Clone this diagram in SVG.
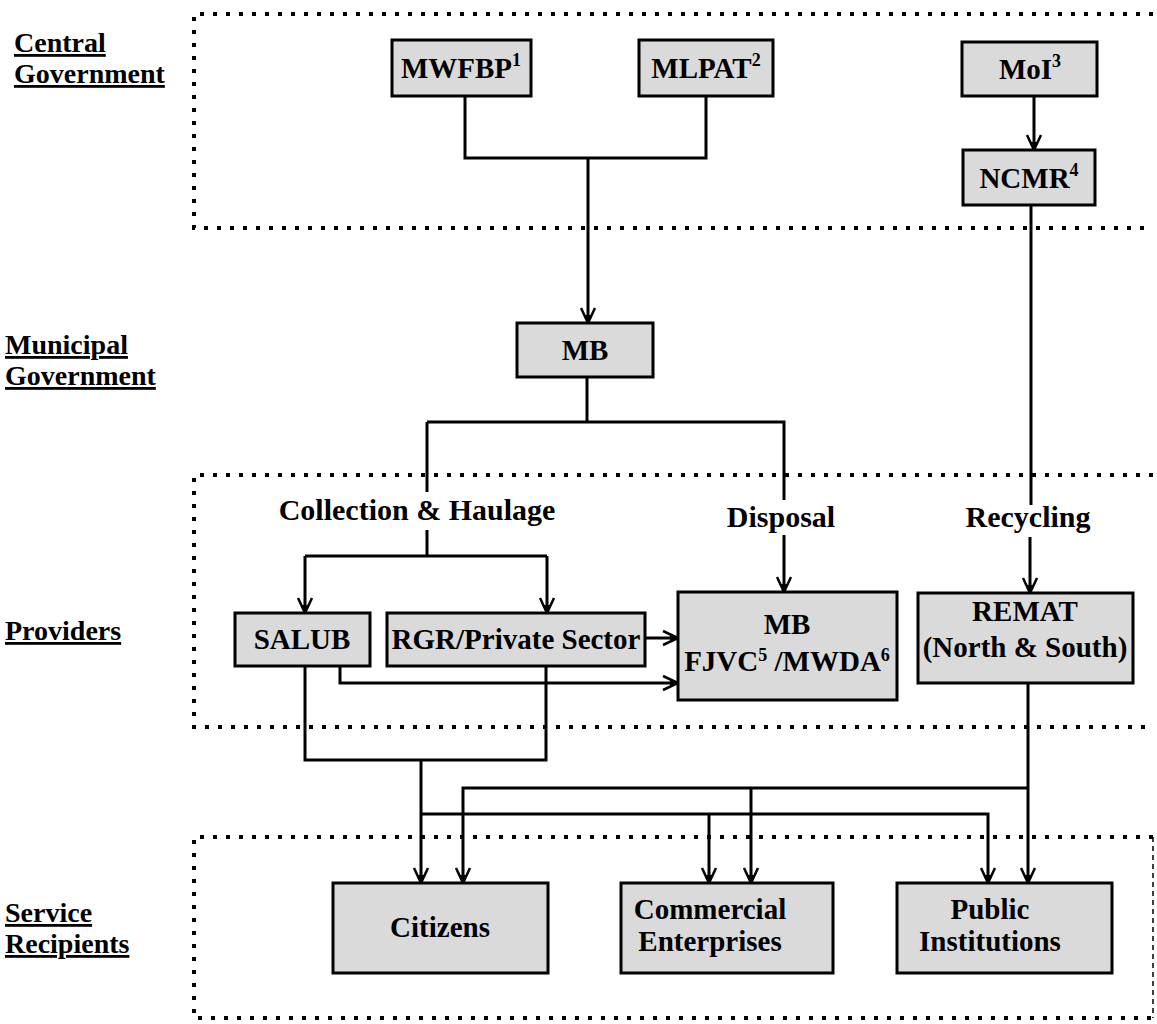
<svg xmlns="http://www.w3.org/2000/svg" width="1157" height="1024" viewBox="0 0 1157 1024">
<defs>
<style>
.bg{fill:#ffffff}
.zone{fill:none;stroke:#000;stroke-width:4;stroke-dasharray:4 9}
.zone-thin{fill:none;stroke:#000;stroke-width:1.5;stroke-dasharray:5 4}
.box{fill:#dadada;stroke:#000;stroke-width:3}
.lbl{font-family:"Liberation Serif","Times New Roman",serif;font-weight:bold;fill:#000}
.side{font-size:28px;text-decoration:underline}
.node{font-size:29px;text-anchor:middle}
.cat{font-size:30px;text-anchor:middle}
.sup{font-size:18px}
.conn{fill:none;stroke:#000;stroke-width:3}
</style>
<marker id="arr" markerUnits="userSpaceOnUse" markerWidth="30" markerHeight="30" refX="0" refY="0" orient="auto" overflow="visible">
<path d="M-15,-7 L0,0 L-15,7" fill="none" stroke="#000" stroke-width="2.5"/>
<path d="M-8,-3.5 L0,0 L-8,3.5 z" fill="#000"/>
</marker>
</defs>
<rect class="bg" x="0" y="0" width="1157" height="1024"/>

<g id="zones">
<path class="zone" d="M1153,14 H194 V228 H1153"/>
<path class="zone" d="M1153,475 H194 V727 H1153"/>
<path class="zone" d="M1153,837 H194 V1018 H1153"/>
<path class="zone-thin" d="M1153,837 V1018"/>
</g>

<g id="side-labels">
<text class="lbl side" x="14" y="52">Central</text>
<text class="lbl side" x="14" y="83">Government</text>
<text class="lbl side" x="5" y="354">Municipal</text>
<text class="lbl side" x="5" y="385">Government</text>
<text class="lbl side" x="5" y="640">Providers</text>
<text class="lbl side" x="5" y="922">Service</text>
<text class="lbl side" x="5" y="953">Recipients</text>
</g>

<g id="categories">
<text class="lbl cat" x="417" y="520">Collection &amp; Haulage</text>
<text class="lbl cat" x="781" y="527">Disposal</text>
<text class="lbl cat" x="1028" y="527">Recycling</text>
</g>

<g id="connectors">
<path class="conn" d="M465,96 V158 H706 V96"/>
<path class="conn" d="M588,158 V323" marker-end="url(#arr)"/>
<path class="conn" d="M1034,96 V150" marker-end="url(#arr)"/>
<path class="conn" d="M1031,205 V505"/>
<path class="conn" d="M1030,537 V593" marker-end="url(#arr)"/>
<path class="conn" d="M587,377 V422"/>
<path class="conn" d="M427,422 H784 V500"/>
<path class="conn" d="M427,422 V492"/>
<path class="conn" d="M427,530 V556"/>
<path class="conn" d="M784,535 V592" marker-end="url(#arr)"/>
<path class="conn" d="M305,556 H547"/>
<path class="conn" d="M305,556 V613" marker-end="url(#arr)"/>
<path class="conn" d="M547,556 V613" marker-end="url(#arr)"/>
<path class="conn" d="M645,638 H678" marker-end="url(#arr)"/>
<path class="conn" d="M340,666 V683 H678" marker-end="url(#arr)"/>
<path class="conn" d="M305,666 V760 H546 V666"/>
<path class="conn" d="M421,760 V883" marker-end="url(#arr)"/>
<path class="conn" d="M421,814 H988 V883" marker-end="url(#arr)"/>
<path class="conn" d="M709,814 V883" marker-end="url(#arr)"/>
<path class="conn" d="M1028,683 V883" marker-end="url(#arr)"/>
<path class="conn" d="M1028,788 H463 V883" marker-end="url(#arr)"/>
<path class="conn" d="M751,788 V883" marker-end="url(#arr)"/>
</g>

<g id="n-mwfbp">
<rect class="box" x="392" y="40" width="139" height="56"/>
<text class="lbl node" x="461" y="78">MWFBP<tspan class="sup" dy="-12">1</tspan></text>
</g>
<g id="n-mlpat">
<rect class="box" x="639" y="40" width="134" height="56"/>
<text class="lbl node" x="706" y="78">MLPAT<tspan class="sup" dy="-12">2</tspan></text>
</g>
<g id="n-moi">
<rect class="box" x="962" y="42" width="135" height="54"/>
<text class="lbl node" x="1030" y="79">MoI<tspan class="sup" dy="-12">3</tspan></text>
</g>
<g id="n-ncmr">
<rect class="box" x="963" y="150" width="132" height="55"/>
<text class="lbl node" x="1029" y="188">NCMR<tspan class="sup" dy="-12">4</tspan></text>
</g>
<g id="n-mb">
<rect class="box" x="517" y="323" width="136" height="54"/>
<text class="lbl node" x="585" y="360">MB</text>
</g>
<g id="n-salub">
<rect class="box" x="235" y="613" width="135" height="53"/>
<text class="lbl node" x="302" y="649">SALUB</text>
</g>
<g id="n-rgr">
<rect class="box" x="387" y="613" width="258" height="53"/>
<text class="lbl node" x="516" y="649">RGR/Private Sector</text>
</g>
<g id="n-mbd">
<rect class="box" x="678" y="592" width="219" height="108"/>
<text class="lbl node" x="787" y="634">MB</text>
<text class="lbl node" x="787" y="671">FJVC<tspan class="sup" dy="-10">5</tspan><tspan dy="10"> /MWDA</tspan><tspan class="sup" dy="-10">6</tspan></text>
</g>
<g id="n-remat">
<rect class="box" x="918" y="593" width="215" height="90"/>
<text class="lbl node" x="1025" y="621">REMAT</text>
<text class="lbl node" x="1025" y="657">(North &amp; South)</text>
</g>
<g id="n-citizens">
<rect class="box" x="333" y="883" width="215" height="90"/>
<text class="lbl node" x="440" y="937">Citizens</text>
</g>
<g id="n-commercial">
<rect class="box" x="621" y="883" width="212" height="90"/>
<text class="lbl node" x="710" y="919">Commercial</text>
<text class="lbl node" x="710" y="951">Enterprises</text>
</g>
<g id="n-public">
<rect class="box" x="897" y="883" width="215" height="90"/>
<text class="lbl node" x="990" y="919">Public</text>
<text class="lbl node" x="990" y="951">Institutions</text>
</g>
</svg>
